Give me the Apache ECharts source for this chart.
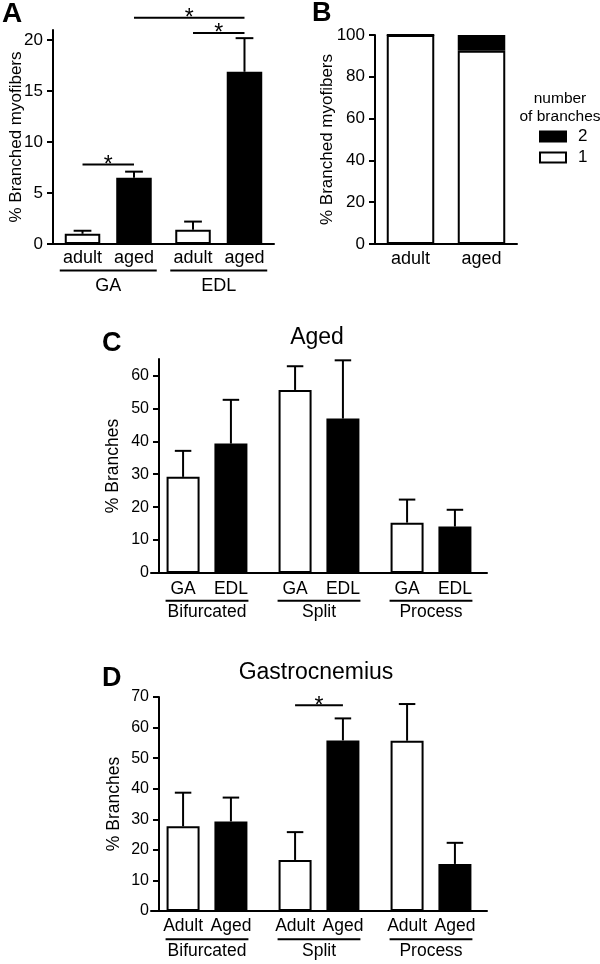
<!DOCTYPE html>
<html><head><meta charset="utf-8">
<script src="https://cdn.jsdelivr.net/npm/echarts@6/dist/echarts.min.js"></script>
<style>html,body{margin:0;padding:0;background:#fff}#c{width:600px;height:964px}</style>
</head><body><div id="c"></div>
<script>
// ---------- Panel A ----------
const aGroups = ['GA', 'EDL'];
const aAdult = [1.0, 1.4];
const aAdultErr = [0.3, 0.8];
const aAged = [6.5, 16.9];
const aAgedErr = [0.6, 3.3];
const aTicks = [0, 5, 10, 15, 20];
// significance bars: [group1, slot1, group2, slot2, yValue]
const aSig = [[0, 0, 0, 1, 7.8], [1, 0, 1, 1, 20.7], [0, 1, 1, 1, 22.2]];

// ---------- Panel B ----------
const bCats = ['adult', 'aged'];
const bOne = [100, 92.5];
const bTwo = [0, 7.5];
const bTicks = [0, 20, 40, 60, 80, 100];

// ---------- Panel C ----------
const cGroups = ['Bifurcated', 'Split', 'Process'];
const cGA = [29.2, 55.6, 15.3];
const cGAErr = [7.9, 7.2, 7.0];
const cEDL = [39.3, 46.9, 14.1];
const cEDLErr = [13.3, 17.7, 5.1];
const cTicks = [0, 10, 20, 30, 40, 50, 60];

// ---------- Panel D ----------
const dGroups = ['Bifurcated', 'Split', 'Process'];
const dAdult = [27.7, 16.7, 55.7];
const dAdultErr = [11.0, 9.1, 12.0];
const dAged = [29.3, 55.8, 15.4];
const dAgedErr = [7.8, 7.2, 6.9];
const dTicks = [0, 10, 20, 30, 40, 50, 60, 70];
const dSig = [[1, 0, 1, 1, 67.3]];

const FONT = "'Liberation Sans', Arial, sans-serif";
const BLK = '#000';

function makeErr(barW, gapFrac) {
  const off = barW * (1 + gapFrac) / 2;
  return function (params, api) {
    const cat = api.value(0), slot = api.value(1), v = api.value(2), e = api.value(3);
    const p0 = api.coord([cat, v]), p1 = api.coord([cat, v + e]);
    const x = p0[0] + (slot === 0 ? -off : off);
    const h = barW / 4;
    return { type: 'group', children: [
      { type: 'line', shape: { x1: x, y1: p0[1], x2: x, y2: p1[1] }, style: { stroke: BLK, lineWidth: 2 } },
      { type: 'line', shape: { x1: x - h, y1: p1[1], x2: x + h, y2: p1[1] }, style: { stroke: BLK, lineWidth: 2 } }
    ] };
  };
}
function makeSig(barW, gapFrac) {
  const off = barW * (1 + gapFrac) / 2;
  return function (params, api) {
    const c1 = api.value(0), s1 = api.value(1), c2 = api.value(2), s2 = api.value(3), y = api.value(4);
    const p1 = api.coord([c1, y]), p2 = api.coord([c2, y]);
    const x1 = p1[0] + (s1 ? off : -off), x2 = p2[0] + (s2 ? off : -off);
    return { type: 'group', children: [
      { type: 'line', shape: { x1: x1, y1: p1[1], x2: x2, y2: p1[1] }, style: { stroke: BLK, lineWidth: 2 } },
      { type: 'text', style: { text: '*', x: (x1 + x2) / 2, y: p1[1] + 1, align: 'center', verticalAlign: 'middle', fontSize: 23, fontFamily: FONT, fill: BLK } }
    ] };
  };
}
function makeUnder(barW, gapFrac, pad, dy) {
  const off = barW * (1 + gapFrac) / 2;
  return function (params, api) {
    const cat = api.value(0);
    const p = api.coord([cat, 0]);
    const xl = p[0] - off - barW / 2 - pad, xr = p[0] + off + barW / 2 + pad;
    return { type: 'line', shape: { x1: xl, y1: p[1] + dy, x2: xr, y2: p[1] + dy }, style: { stroke: BLK, lineWidth: 2 } };
  };
}
function errData(v0, e0, v1, e1) {
  const out = [];
  v0.forEach((v, i) => out.push([i, 0, v, e0[i]]));
  v1.forEach((v, i) => out.push([i, 1, v, e1[i]]));
  return out;
}
function yAx(grid, max, ticks, nameText, nameGap, fs, nfs, offset) {
  return {
    type: 'value', gridIndex: grid, min: 0, max: max, offset: offset || 0, z: 10,
    name: nameText, nameLocation: 'middle', nameRotate: 90, nameGap: nameGap, nameMoveOverlap: false,
    nameTextStyle: { fontSize: nfs, color: BLK, fontFamily: FONT },
    axisLine: { show: true, lineStyle: { color: BLK, width: 2 } },
    axisTick: { show: true, length: 6, lineStyle: { color: BLK, width: 2 }, customValues: ticks },
    axisLabel: { fontSize: fs, color: BLK, margin: 10, fontFamily: FONT, customValues: ticks },
    splitLine: { show: false }
  };
}
function xAx(grid, cats, margin, fs) {
  return {
    type: 'category', gridIndex: grid, data: cats, z: 10,
    axisLine: { show: true, lineStyle: { color: BLK, width: 2 } },
    axisTick: { show: false },
    axisLabel: { fontSize: fs, color: BLK, margin: margin, fontFamily: FONT, interval: 0 },
    splitLine: { show: false }
  };
}
function barS(name, data, xi, color, barW, gap, subDist, fs) {
  return {
    type: 'bar', name: name, data: data, xAxisIndex: xi, yAxisIndex: xi,
    barWidth: barW, barGap: gap,
    itemStyle: { color: color, borderColor: BLK, borderWidth: 2 },
    label: { show: true, position: 'bottom', distance: subDist, formatter: '{a}', fontSize: fs, color: BLK, fontFamily: FONT },
    emphasis: { disabled: true }, animation: false
  };
}
function customS(xi, data, render, encode) {
  return { type: 'custom', xAxisIndex: xi, yAxisIndex: xi, data: data, renderItem: render,
    encode: encode, clip: false, silent: true, animation: false, z: 5 };
}

const A_BW = 35.5, A_G = 0.45;
const C_BW = 33, C_G = 0.45;

const option = {
  animation: false,
  textStyle: { fontFamily: FONT, color: BLK },
  title: [
    { text: 'A', left: 2, top: 0, padding: 0, textStyle: { fontSize: 28, fontWeight: 'bold', color: BLK, fontFamily: FONT } },
    { text: 'B', left: 312, top: 0, padding: 0, textStyle: { fontSize: 27, fontWeight: 'bold', color: BLK, fontFamily: FONT } },
    { text: 'C', left: 102, top: 330, padding: 0, textStyle: { fontSize: 27, fontWeight: 'bold', color: BLK, fontFamily: FONT } },
    { text: 'D', left: 102, top: 665, padding: 0, textStyle: { fontSize: 27, fontWeight: 'bold', color: BLK, fontFamily: FONT } },
    { text: 'Aged', left: 317, top: 326, textAlign: 'center', padding: 0, textStyle: { fontSize: 23, fontWeight: 'normal', color: BLK, fontFamily: FONT } },
    { text: 'Gastrocnemius', left: 316, top: 661, textAlign: 'center', padding: 0, textStyle: { fontSize: 23, fontWeight: 'normal', color: BLK, fontFamily: FONT } },
    { text: 'number\nof branches', left: 560, top: 90, textAlign: 'center', padding: 0, textStyle: { fontSize: 15.5, lineHeight: 18, fontWeight: 'normal', color: BLK, fontFamily: FONT } }
  ],
  legend: {
    data: ['2', '1'], orient: 'vertical', left: 539, top: 128, itemWidth: 26, itemHeight: 10, itemGap: 4,
    icon: 'rect', padding: 0, selectedMode: false,
    textStyle: { fontSize: 17, color: BLK, fontFamily: FONT, padding: [0, 0, 0, 7] }
  },
  grid: [
    { left: 53, top: 30, width: 221, height: 214 },
    { left: 375, top: 35, width: 142, height: 209 },
    { left: 151, top: 359, width: 336, height: 214 },
    { left: 151, top: 697, width: 336, height: 214 }
  ],
  xAxis: [
    xAx(0, aGroups, 33, 18),
    xAx(1, bCats, 6, 18),
    xAx(2, cGroups, 30, 17.5),
    xAx(3, dGroups, 31, 17.5)
  ],
  yAxis: [
    yAx(0, 21, aTicks, '% Branched myofibers', 28, 17, 17),
    yAx(1, 100, bTicks, '% Branched myofibers', 39, 17, 17),
    yAx(2, 65, cTicks, '% Branches', 37, 16, 17.5, -8),
    yAx(3, 70, dTicks, '% Branches', 36, 16, 17.5, -8)
  ],
  series: [
    // Panel A
    barS('adult', aAdult, 0, '#fff', A_BW, '45%', 5, 18),
    barS('aged', aAged, 0, BLK, A_BW, '45%', 5, 18),
    customS(0, errData(aAdult, aAdultErr, aAged, aAgedErr), makeErr(A_BW, A_G), { x: 0, y: 2 }),
    customS(0, aSig, makeSig(A_BW, A_G), { x: 0, y: 4 }),
    customS(0, aGroups.map((g, i) => [i, 0]), makeUnder(A_BW, A_G, 5, 26.5), { x: 0, y: 1 }),
    // Panel B
    { type: 'bar', name: '1', data: bOne, xAxisIndex: 1, yAxisIndex: 1, stack: 'b', barWidth: 47.5,
      itemStyle: { color: '#fff', borderColor: BLK, borderWidth: 2 }, emphasis: { disabled: true } },
    { type: 'bar', name: '2', data: bTwo, xAxisIndex: 1, yAxisIndex: 1, stack: 'b', barWidth: 47.5,
      itemStyle: { color: BLK, borderColor: BLK, borderWidth: 2 }, emphasis: { disabled: true } },
    // Panel C
    barS('GA', cGA, 2, '#fff', C_BW, '45%', 7, 17.5),
    barS('EDL', cEDL, 2, BLK, C_BW, '45%', 7, 17.5),
    customS(2, errData(cGA, cGAErr, cEDL, cEDLErr), makeErr(C_BW, C_G), { x: 0, y: 2 }),
    customS(2, cGroups.map((g, i) => [i, 0]), makeUnder(C_BW, C_G, 1, 27.7), { x: 0, y: 1 }),
    // Panel D
    barS('Adult', dAdult, 3, '#fff', C_BW, '45%', 6, 17.5),
    barS('Aged', dAged, 3, BLK, C_BW, '45%', 6, 17.5),
    customS(3, errData(dAdult, dAdultErr, dAged, dAgedErr), makeErr(C_BW, C_G), { x: 0, y: 2 }),
    customS(3, dSig, makeSig(C_BW, C_G), { x: 0, y: 4 }),
    customS(3, dGroups.map((g, i) => [i, 0]), makeUnder(C_BW, C_G, 1, 28.3), { x: 0, y: 1 })
  ]
};
const chart = echarts.init(document.getElementById('c'), null, { renderer: 'canvas' });
chart.setOption(option);
</script>
</body></html>
